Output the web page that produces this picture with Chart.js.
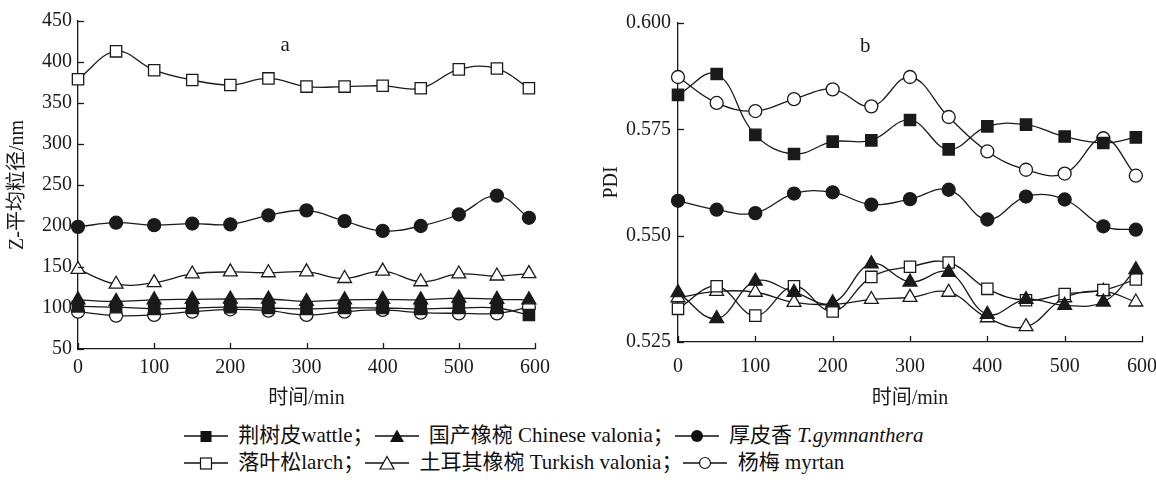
<!DOCTYPE html>
<html>
<head>
<meta charset="utf-8">
<script src="https://cdn.jsdelivr.net/npm/chart.js@4/dist/chart.umd.min.js"></script>
<style>
html,body{margin:0;padding:0;background:#fff;overflow:hidden;width:1156px;height:494px;}
#wa{position:absolute;left:0;top:0;width:578px;height:415px;}
#wb{position:absolute;left:578px;top:0;width:600px;height:415px;}
#legend{position:absolute;left:183px;top:422px;font-family:'Liberation Serif','Noto Sans CJK SC',serif;font-size:21px;line-height:27px;white-space:nowrap;color:#111;}
#legend svg{vertical-align:-2px;margin:0 4px 0 0;}
#legend i{font-style:italic;}
</style>
</head>
<body>
<div id="wa"><canvas id="ca"></canvas></div>
<div id="wb"><canvas id="cb"></canvas></div>
<div id="legend">
<div><svg width="46" height="16"><line x1="1" y1="8" x2="45" y2="8" stroke="#111" stroke-width="1.4"/><rect x="17.5" y="3" width="11" height="11" fill="#111"/></svg> 荆树皮wattle；<svg width="46" height="16"><line x1="1" y1="8" x2="45" y2="8" stroke="#111" stroke-width="1.4"/><polygon points="23,1.5 30,14 16,14" fill="#111"/></svg> 国产橡椀 Chinese valonia；<svg width="46" height="16"><line x1="1" y1="8" x2="45" y2="8" stroke="#111" stroke-width="1.4"/><circle cx="23" cy="8" r="6" fill="#111"/></svg> 厚皮香 <i>T.gymnanthera</i></div>
<div><svg width="46" height="16"><line x1="1" y1="8" x2="45" y2="8" stroke="#111" stroke-width="1.4"/><rect x="17.5" y="3" width="11" height="11" fill="#fff" stroke="#111" stroke-width="1.2"/></svg> 落叶松larch；<svg width="46" height="16"><line x1="1" y1="8" x2="45" y2="8" stroke="#111" stroke-width="1.4"/><polygon points="23,1.5 30,14 16,14" fill="#fff" stroke="#111" stroke-width="1.2"/></svg> 土耳其橡椀 Turkish valonia；<svg width="46" height="16"><line x1="1" y1="8" x2="45" y2="8" stroke="#111" stroke-width="1.4"/><circle cx="23" cy="8" r="5.5" fill="#fff" stroke="#111" stroke-width="1.2"/></svg> 杨梅 myrtan</div>
</div>
<script>
// ---- data ----
const times = [0, 50, 100, 150, 200, 250, 300, 350, 400, 450, 500, 550, 592];
const seriesNames = ['荆树皮wattle', '国产橡椀 Chinese valonia', '厚皮香 T.gymnanthera', '落叶松larch', '土耳其橡椀 Turkish valonia', '杨梅 myrtan'];

// panel a: Z-average particle size (nm)
const wattleA   = [102, 101, 99, 100, 101, 100, 99, 100, 100, 99, 100, 100, 91.5];
const chineseA  = [110, 108, 110, 110.6, 111, 111, 108, 110, 110.6, 110, 112, 110.6, 110];
const gymnA     = [199, 204, 201, 203, 202, 213, 219, 206, 194, 200, 214, 237, 210];
const larchA    = [379, 413, 390, 378, 372, 380, 370, 370, 371, 368, 391, 392, 368];
const turkishA  = [147, 129, 131, 141.5, 144, 143, 144, 136, 145, 132, 141.5, 139, 142];
const myrtanA   = [95.5, 90.6, 91.5, 95.5, 98.4, 96.7, 91.5, 95.5, 97.6, 94.3, 93.5, 93.5, 101];

// panel b: PDI
const wattleB   = [0.5831, 0.5880, 0.5737, 0.5692, 0.5721, 0.5724, 0.5772, 0.5703, 0.5757, 0.5761, 0.5733, 0.5718, 0.5731];
const chineseB  = [0.5366, 0.5305, 0.5393, 0.5367, 0.5342, 0.5434, 0.5391, 0.5414, 0.5315, 0.5350, 0.5336, 0.5344, 0.5420];
const gymnB     = [0.5582, 0.5561, 0.5553, 0.5599, 0.5602, 0.5573, 0.5586, 0.5608, 0.5538, 0.5592, 0.5585, 0.5522, 0.5514];
const larchB    = [0.5328, 0.5381, 0.5312, 0.5381, 0.5322, 0.5403, 0.5427, 0.5437, 0.5375, 0.5348, 0.5363, 0.5372, 0.5397];
const turkishB  = [0.5354, 0.5369, 0.5367, 0.5343, 0.5338, 0.5350, 0.5355, 0.5367, 0.5307, 0.5286, 0.5354, 0.5369, 0.5344];
const myrtanB   = [0.5873, 0.5812, 0.5793, 0.5821, 0.5844, 0.5804, 0.5873, 0.5779, 0.5698, 0.5655, 0.5646, 0.5729, 0.5641];

const xTicks = [0, 100, 200, 300, 400, 500, 600];
const yTicksA = [50, 100, 150, 200, 250, 300, 350, 400, 450];
const yTicksB = [0.525, 0.550, 0.575, 0.600];
const xTitle = '时间/min';
const yTitleA = 'Z-平均粒径/nm';
const yTitleB = 'PDI';

// ---- styles ----
const FONT = "'Liberation Serif','Noto Sans CJK SC',serif";
const INK = '#1a1a1a';
const styles = [
  {pointStyle:'rect', radius:8, fill:INK},
  {pointStyle:'triangle', radius:8, fill:INK},
  {pointStyle:'circle', radius:6.5, fill:INK},
  {pointStyle:'rect', radius:8, fill:'#fff'},
  {pointStyle:'triangle', radius:8, fill:'#fff'},
  {pointStyle:'circle', radius:6.5, fill:'#fff'}
];

function makeDatasets(arrs){
  return arrs.map((arr, i) => ({
    label: seriesNames[i],
    data: arr.map((v, k) => ({x: times[k], y: v})),
    borderColor: INK,
    borderWidth: 1.3,
    tension: 0.4,
    fill: false,
    clip: false,
    pointStyle: styles[i].pointStyle,
    pointRadius: styles[i].radius,
    pointBackgroundColor: styles[i].fill,
    pointBorderColor: INK,
    pointBorderWidth: 1.3
  }));
}

const inTicks = {
  id: 'inTicks',
  afterDraw(chart, args, opts) {
    const ctx = chart.ctx, xs = chart.scales.x, ys = chart.scales.y;
    const area = chart.chartArea;
    ctx.save();
    ctx.strokeStyle = INK; ctx.lineWidth = 1.3;
    xs.ticks.forEach(t => {
      const px = Math.round(xs.getPixelForValue(t.value)) + 0.5;
      ctx.beginPath(); ctx.moveTo(px, area.bottom); ctx.lineTo(px, area.bottom - 6); ctx.stroke();
    });
    ys.ticks.forEach(t => {
      const py = Math.round(ys.getPixelForValue(t.value)) + 0.5;
      ctx.beginPath(); ctx.moveTo(area.left, py); ctx.lineTo(area.left + 6, py); ctx.stroke();
    });
    ctx.fillStyle = INK;
    ctx.font = '21px ' + FONT;
    ctx.textAlign = 'center'; ctx.textBaseline = 'middle';
    ctx.fillText(opts.letter, xs.getPixelForValue(opts.lx), ys.getPixelForValue(opts.ly));
    ctx.restore();
  }
};

function makeChart(id, arrs, yTicks, yMin, yMax, yTitle, fmt, cfg) {
  return new Chart(document.getElementById(id), {
    type: 'line',
    data: {datasets: makeDatasets(arrs)},
    plugins: [inTicks],
    options: {
      responsive: true,
      maintainAspectRatio: false,
      animation: false,
      layout: {padding: {left: 0, right: cfg.padRight, top: cfg.padTop, bottom: 0}},
      plugins: {
        legend: {display: false},
        tooltip: {enabled: false},
        inTicks: {letter: cfg.letter, lx: cfg.lx, ly: cfg.ly}
      },
      scales: {
        x: {
          type: 'linear', min: 0, max: 600,
          afterBuildTicks: s => { s.ticks = xTicks.map(v => ({value: v})); },
          afterFit: s => { s.height = cfg.xHeight; },
          grid: {display: false, drawTicks: false},
          border: {display: true, color: INK, width: 1.3},
          ticks: {color: INK, font: {family: FONT, size: 20}, padding: cfg.xPad, maxRotation: 0, autoSkip: false},
          title: {display: true, text: xTitle, color: INK, font: {family: FONT, size: 20}, padding: {top: 0, bottom: 4}}
        },
        y: {
          type: 'linear', min: yMin, max: yMax,
          afterBuildTicks: s => { s.ticks = yTicks.map(v => ({value: v})); },
          afterFit: s => { s.width = cfg.yWidth; },
          grid: {display: false, drawTicks: false},
          border: {display: true, color: INK, width: 1.3},
          ticks: {color: INK, font: {family: FONT, size: 20}, padding: cfg.yPad, autoSkip: false, callback: fmt},
          title: {display: true, text: yTitle, color: INK, font: {family: FONT, size: 20}, padding: {top: cfg.yTitlePad, bottom: 0}}
        }
      }
    }
  });
}

makeChart('ca', [wattleA, chineseA, gymnA, larchA, turkishA, myrtanA], yTicksA, 50, 450, yTitleA,
  v => String(v),
  {padRight: 43, padTop: 21, xHeight: 66, yWidth: 78, xPad: 7, yPad: 6, yTitlePad: 6, letter: 'a', lx: 272, ly: 420});

makeChart('cb', [wattleB, chineseB, gymnB, larchB, turkishB, myrtanB], yTicksB, 0.525, 0.600, yTitleB,
  v => Number(v).toFixed(3),
  {padRight: 36, padTop: 23, xHeight: 73, yWidth: 100, xPad: 13, yPad: 7, yTitlePad: 22, letter: 'b', lx: 242, ly: 0.5944});
</script>
</body>
</html>
